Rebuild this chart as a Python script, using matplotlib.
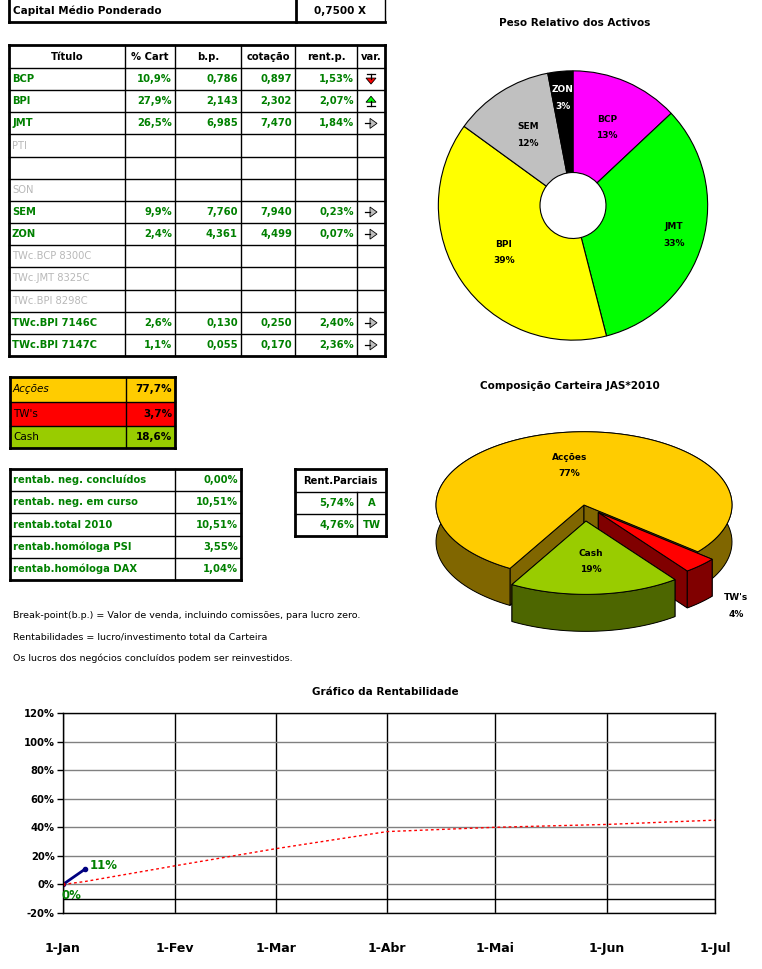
import matplotlib
matplotlib.use("Agg")
import matplotlib.pyplot as plt
from matplotlib.patches import Rectangle, Polygon
import numpy as np
import datetime as dt

plt.rcParams['font.family'] = ['DejaVu Sans']

# ---- data ----
capital_label = "Capital Médio Ponderado"
capital_value = "0,7500 X"

header = ["Título", "% Cart", "b.p.", "cotação", "rent.p.", "var."]
titulos = ["BCP", "BPI", "JMT", "PTI", "", "SON", "SEM", "ZON",
           "TWc.BCP 8300C", "TWc.JMT 8325C", "TWc.BPI 8298C",
           "TWc.BPI 7146C", "TWc.BPI 7147C"]
pct_cart = [10.9, 27.9, 26.5, None, None, None, 9.9, 2.4, None, None, None, 2.6, 1.1]
bp = [0.786, 2.143, 6.985, None, None, None, 7.760, 4.361, None, None, None, 0.130, 0.055]
cotacao = [0.897, 2.302, 7.470, None, None, None, 7.940, 4.499, None, None, None, 0.250, 0.170]
rent_p = [1.53, 2.07, 1.84, None, None, None, 0.23, 0.07, None, None, None, 2.40, 2.36]
var = ["down", "up", "right", "", "", "", "right", "right", "", "", "", "right", "right"]

alloc_labels = ["Acções", "TW's", "Cash"]
alloc_vals = [77.7, 3.7, 18.6]
alloc_colors = ["#ffcc00", "#ff0000", "#99cc00"]

rentab_labels = ["rentab. neg. concluídos", "rentab. neg. em curso", "rentab.total 2010",
                 "rentab.homóloga PSI", "rentab.homóloga DAX"]
rentab_vals = [0.00, 10.51, 10.51, 3.55, 1.04]

parc_vals = [5.74, 4.76]
parc_tags = ["A", "TW"]

notes = ["Break-point(b.p.) = Valor de venda, incluindo comissões, para lucro zero.",
         "Rentabilidades = lucro/investimento total da Carteira",
         "Os lucros dos negócios concluídos podem ser reinvestidos."]

donut_labels = ["BCP", "JMT", "BPI", "SEM", "ZON"]
donut_vals = [13, 33, 39, 12, 3]
donut_colors = ["#ff00ff", "#00ff00", "#ffff00", "#c0c0c0", "#000000"]

pie3d_labels = ["Acções", "TW's", "Cash"]
pie3d_vals = [77.7, 3.7, 18.6]
pie3d_pct = ["77%", "4%", "19%"]
pie3d_top = ["#ffcc00", "#ff0000", "#99cc00"]
pie3d_side = ["#806600", "#800000", "#4d6600"]

month_labels = ["1-Jan", "1-Fev", "1-Mar", "1-Abr", "1-Mai", "1-Jun", "1-Jul"]
carteira_dates = [dt.date(2010, 1, 1), dt.date(2010, 1, 7)]
carteira_vals = [0.0, 10.51]
objectivo_dates = [dt.date(2010, 1, 1), dt.date(2010, 1, 7), dt.date(2010, 2, 1), dt.date(2010, 3, 1),
                   dt.date(2010, 4, 1), dt.date(2010, 5, 1), dt.date(2010, 6, 1), dt.date(2010, 7, 1)]
objectivo_vals = [0, 2, 13, 25, 37, 40, 42, 45]

GREEN = "#008000"
GREY = "#b8b8b8"


def fmt(v, nd, pct=False):
    s = f"{v:.{nd}f}".replace(".", ",")
    return s + "%" if pct else s


fig = plt.figure(figsize=(7.62, 9.69), dpi=100)
bg = fig.add_axes([0, 0, 1, 1])
bg.set_xlim(0, 762)
bg.set_ylim(969, 0)
bg.axis("off")


def cell_lines(xs, ys, outer=2.0, inner=1.0):
    for x in xs:
        lw = outer if x in (xs[0], xs[-1]) else inner
        bg.plot([x, x], [ys[0], ys[-1]], color="black", lw=lw, solid_capstyle="projecting")
    for y in ys:
        lw = outer if y in (ys[0], ys[-1]) else inner
        bg.plot([xs[0], xs[-1]], [y, y], color="black", lw=lw, solid_capstyle="projecting")


def draw_arrow(kind, xa, yc):
    if kind == "down":
        bg.plot([xa - 4, xa + 4], [yc - 5, yc - 5], color="black", lw=0.9)
        bg.plot([xa, xa], [yc - 5, yc], color="black", lw=0.9)
        bg.add_patch(Polygon([(xa - 5, yc - 1), (xa + 5, yc - 1), (xa, yc + 5)], closed=True,
                             fc="#ff0000", ec="black", lw=0.6))
    elif kind == "up":
        bg.plot([xa - 4, xa + 4], [yc + 5, yc + 5], color="black", lw=0.9)
        bg.plot([xa, xa], [yc + 5, yc], color="black", lw=0.9)
        bg.add_patch(Polygon([(xa - 5, yc + 1), (xa + 5, yc + 1), (xa, yc - 5)], closed=True,
                             fc="#00ff00", ec="black", lw=0.6))
    else:
        bg.plot([xa - 6, xa - 1], [yc, yc], color="black", lw=0.9)
        bg.add_patch(Polygon([(xa - 1, yc - 5), (xa - 1, yc + 5), (xa + 6, yc)], closed=True,
                             fc="#c0c0c0", ec="black", lw=0.6))


# capital medio box
bg.plot([9, 9], [0, 22], color="black", lw=2)
bg.plot([9, 385], [22, 22], color="black", lw=2)
bg.plot([296, 296], [0, 22], color="black", lw=2)
bg.plot([385, 385], [0, 22], color="black", lw=1)
bg.text(13, 11, capital_label, fontsize=7.5, fontweight="bold", va="center")
bg.text(340, 11, capital_value, fontsize=7.5, fontweight="bold", va="center", ha="center")

# main table
cols = [9, 125, 175, 241, 295, 357, 385]
rows = [45] + list(np.linspace(68, 356, len(titulos) + 1))
cell_lines(cols, rows)
for i, h in enumerate(header):
    bg.text((cols[i] + cols[i + 1]) / 2, (rows[0] + rows[1]) / 2, h, fontsize=7.2,
            fontweight="bold", ha="center", va="center")
for r, name in enumerate(titulos):
    yc = (rows[r + 1] + rows[r + 2]) / 2
    if pct_cart[r] is not None:
        bg.text(12, yc, name, fontsize=7.2, fontweight="bold", color=GREEN, va="center")
        vals = [fmt(pct_cart[r], 1, True), fmt(bp[r], 3), fmt(cotacao[r], 3), fmt(rent_p[r], 2, True)]
        for c, s in enumerate(vals):
            bg.text(cols[c + 2] - 3, yc, s, fontsize=7.2, fontweight="bold", color=GREEN,
                    va="center", ha="right")
        draw_arrow(var[r], (cols[5] + cols[6]) / 2, yc)
    else:
        bg.text(12, yc, name, fontsize=7.2, color=GREY, va="center")

# allocation table
acols = [10, 126, 175]
arows = [377, 402, 426, 448]
for r in range(3):
    bg.add_patch(Rectangle((acols[0], arows[r]), acols[-1] - acols[0], arows[r + 1] - arows[r],
                           facecolor=alloc_colors[r], edgecolor="none"))
cell_lines(acols, arows)
for r in range(3):
    yc = (arows[r] + arows[r + 1]) / 2
    bg.text(13, yc, alloc_labels[r], fontsize=7.5, va="center", style="italic" if r == 0 else "normal")
    bg.text(acols[2] - 3, yc, fmt(alloc_vals[r], 1, True), fontsize=7.5, fontweight="bold",
            va="center", ha="right")

# rentabilidades table
rcols = [10, 175, 241]
rrows = list(np.linspace(469, 580, len(rentab_labels) + 1))
cell_lines(rcols, rrows)
for r, lab in enumerate(rentab_labels):
    yc = (rrows[r] + rrows[r + 1]) / 2
    bg.text(13, yc, lab, fontsize=7.2, fontweight="bold", color=GREEN, va="center")
    bg.text(rcols[2] - 3, yc, fmt(rentab_vals[r], 2, True), fontsize=7.2, fontweight="bold",
            color=GREEN, va="center", ha="right")

# rent. parciais table
pcols = [295, 357, 386]
prows = [469, 492, 514, 536]
for x in pcols:
    lw = 2 if x != pcols[1] else 1
    y0 = prows[0] if x != pcols[1] else prows[1]
    bg.plot([x, x], [y0, prows[-1]], color="black", lw=lw, solid_capstyle="projecting")
for y in prows:
    lw = 2 if y in (prows[0], prows[-1]) else 1
    bg.plot([pcols[0], pcols[-1]], [y, y], color="black", lw=lw, solid_capstyle="projecting")
bg.text((pcols[0] + pcols[2]) / 2, (prows[0] + prows[1]) / 2, "Rent.Parciais", fontsize=7.2,
        fontweight="bold", ha="center", va="center")
for r in range(2):
    yc = (prows[r + 1] + prows[r + 2]) / 2
    bg.text(pcols[1] - 3, yc, fmt(parc_vals[r], 2, True), fontsize=7.2, fontweight="bold",
            color=GREEN, va="center", ha="right")
    bg.text((pcols[1] + pcols[2]) / 2, yc, parc_tags[r], fontsize=7.2, fontweight="bold",
            color=GREEN, va="center", ha="center")

# notes
for i, line in enumerate(notes):
    bg.text(13, 615 + 21.5 * i, line, fontsize=6.8, va="center")

# ---- donut: Peso Relativo dos Activos ----
bg.text(575, 23, "Peso Relativo dos Activos", fontsize=7.5, fontweight="bold", ha="center", va="center")
cx, cy, rr = 573, 205.5, 136
axd = fig.add_axes([(cx - rr) / 762, 1 - (cy + rr) / 969, 2 * rr / 762, 2 * rr / 969])
wedges, _ = axd.pie(donut_vals, colors=donut_colors, startangle=90, counterclock=False, radius=1,
                    wedgeprops=dict(width=1 - 0.245, edgecolor="black", linewidth=0.8))
axd.set_xlim(-1.01, 1.01)
axd.set_ylim(-1.01, 1.01)
axd.set_aspect("equal")
label_dist = [0.63, 0.78, 0.62, 0.62, 0.8]
for w, lab, v, d, col in zip(wedges, donut_labels, donut_vals, label_dist, donut_colors):
    ang = np.deg2rad((w.theta1 + w.theta2) / 2)
    tc = "white" if col == "#000000" else "black"
    axd.text(d * np.cos(ang), d * np.sin(ang), f"{lab}\n\n{v}%", fontsize=6.5, fontweight="bold",
             ha="center", va="center", color=tc, linespacing=0.9)

# ---- 3D pie: Composicao Carteira ----
bg.text(570, 386, "Composição Carteira JAS*2010", fontsize=7.5, fontweight="bold", ha="center", va="center")
pc_x, pc_y, prad = 584, 505, 148
ax3 = fig.add_axes([420 / 762, 1 - 640 / 969, 342 / 762, 270 / 969])
ax3.set_xlim((420 - pc_x) / prad, (762 - pc_x) / prad)
ax3.set_ylim((pc_y - 640) / prad, (pc_y - 370) / prad)
ax3.set_aspect("equal")
ax3.axis("off")
squash = 0.495
depth = 0.25
start_cw = 210.0
explode = [0.0, 0.14, 0.22]
lab_dist = [0.55, 1.35, 0.55]
total = sum(pie3d_vals)
bounds = []
a = start_cw
for v in pie3d_vals:
    bounds.append((a, a + 360 * v / total))
    a += 360 * v / total


def ell(t):
    m = np.deg2rad(90 - t)
    return np.cos(m), squash * np.sin(m)


for i in [0, 1, 2]:
    a1, a2 = bounds[i]
    mid = (a1 + a2) / 2
    ox, oy = ell(mid)
    ox, oy = ox * explode[i], oy * explode[i]
    ts = np.linspace(a1, a2, 120)
    ax_, ay_ = ell(ts)
    top = np.column_stack([np.r_[ox, ax_ + ox], np.r_[oy, ay_ + oy]])
    bot = top - [0, depth]
    ax3.add_patch(Polygon(bot, closed=True, fc=pie3d_side[i], ec="none"))
    for k in [1, -1]:
        q = [top[0], top[k], bot[k], bot[0]]
        ax3.add_patch(Polygon(q, closed=True, fc=pie3d_side[i], ec="black", lw=0.7))
    band = np.vstack([top[1:], bot[1:][::-1]])
    ax3.add_patch(Polygon(band, closed=True, fc=pie3d_side[i], ec="black", lw=0.7))
    ax3.add_patch(Polygon(top, closed=True, fc=pie3d_top[i], ec="black", lw=0.7))
    lx, ly = ell(mid)
    lx, ly = ox + lx * lab_dist[i], oy + ly * lab_dist[i]
    if lab_dist[i] > 1:
        ly -= depth * 0.6
    ax3.text(lx, ly, f"{pie3d_labels[i]}\n\n{pie3d_pct[i]}", fontsize=6.5, fontweight="bold",
             ha="center", va="center", linespacing=0.9)

# ---- line chart: Grafico da Rentabilidade ----
bg.text(385, 692, "Gráfico da Rentabilidade", fontsize=7.5, fontweight="bold", ha="center", va="center")
axl = fig.add_axes([63 / 762, 1 - 913 / 969, 652 / 762, 200 / 969])
axl.set_xlim(dt.date(2010, 1, 1), dt.date(2010, 7, 1))
axl.set_ylim(-20, 120)
yt = list(range(-20, 121, 20))
axl.set_yticks(yt)
axl.set_yticklabels([f"{t}%" for t in yt], fontsize=7.2, fontweight="bold")
axl.set_xticks([dt.date(2010, m, 1) for m in range(1, 8)])
axl.set_xticklabels(month_labels, fontsize=9, fontweight="bold")
axl.tick_params(axis="x", length=0, pad=21)
axl.tick_params(axis="y", length=4, width=1, pad=2)
axl.grid(axis="x", color="black", lw=1)
axl.grid(axis="y", color="#808080", lw=1)
axl.set_axisbelow(True)
for s in axl.spines.values():
    s.set_color("black")
    s.set_linewidth(1)
axl.axhline(-10.5, color="black", lw=1)
axl.plot(objectivo_dates, objectivo_vals, color="#ff0000", lw=1, linestyle=(0, (2, 2)), clip_on=False)
axl.plot(carteira_dates, carteira_vals, color="#000080", lw=2, marker="o", markersize=3)
axl.plot(carteira_dates[:1], carteira_vals[:1], "o", color="#ff0000", markersize=2)
axl.annotate(f"{carteira_vals[0]:.0f}%", (carteira_dates[0], carteira_vals[0]), xytext=(-1, -3),
             textcoords="offset points", fontsize=8.5, fontweight="bold", color=GREEN, va="top")
axl.annotate(f"{carteira_vals[1]:.0f}%", (carteira_dates[1], carteira_vals[1]), xytext=(4, 3),
             textcoords="offset points", fontsize=8.5, fontweight="bold", color=GREEN, va="center")

fig.savefig("out.png", dpi=100)
